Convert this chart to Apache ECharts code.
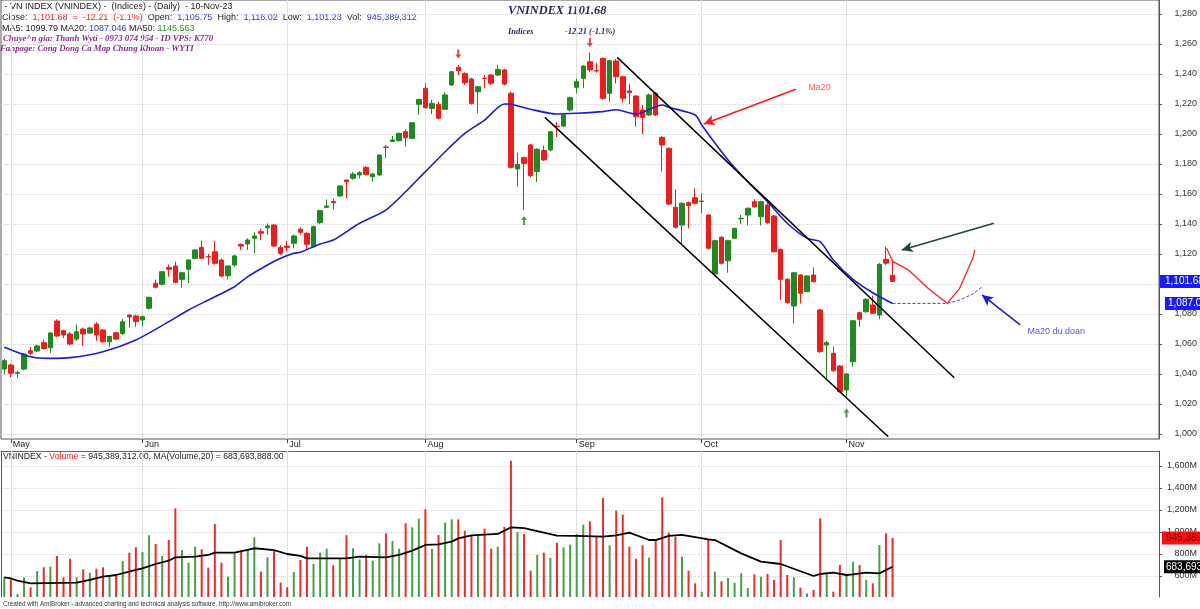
<!DOCTYPE html>
<html><head><meta charset="utf-8">
<script src="https://cdn.jsdelivr.net/npm/echarts@6/dist/echarts.min.js"></script>
<style>html,body{margin:0;padding:0;background:#fff}#c{width:1200px;height:609px}</style>
</head><body><div id="c"></div><script>
// ---------- DATA ----------
const monthNames = ['Apr','May','Jun','Jul','Aug','Sep','Oct','Nov'];
const monthDays  = [1,20,22,21,23,19,22,8];
const futureSlots = 40;

const open = [1043.3,1046,1040.5,1043.3,1055.5,1055.3,1060.9,1057.5,1075.3,1068.9,
1066.7,1063.3,1070,1067.3,1073.3,1069.3,1061.5,1067.5,1067,1079.3,
1078.7,1076,1083.8,1100.5,1099.8,1111.1,1112,1103.1,1109.8,1117.1,
1124.4,1118.3,1121.5,1116,1105.5,1112.7,1126.4,1126.7,1130.5,1134.9,
1137.5,1139.3,1124.4,1125.3,1127.1,1136.5,1133.8,1124.9,1140.9,1151.1,
1154.9,1158.7,1169.3,1170.5,1172.7,1177.8,1171.5,1172.7,1191.3,1195,
1195.5,1201.5,1197.1,1219.8,1230.5,1217.1,1219.8,1216.5,1232.7,1244.5,
1240.4,1236.7,1228.2,1237.2,1239.3,1239.3,1242.7,1227.1,1176.7,1184.2,
1192.7,1175,1189,1189.3,1205.2,1205.3,1216,1231.1,1237.1,1248.2,
1242.3,1250.4,1227.1,1248.7,1238.2,1228.7,1225.3,1216,1212.7,1227.1,
1197.8,1190.5,1151.1,1139.3,1154.2,1157.5,1155,1146,1106.7,1131.1,
1115.5,1130.5,1143.5,1146,1154.9,1144.9,1152.7,1145.3,1123.1,1103.1,
1085.3,1106,1094.9,1106,1082.7,1059.3,1053.8,1045.3,1029.3,1048.2,
1080.9,1081.5,1086,1079.3,1116.5,1105.75];
const close = [1048.9,1040.5,1041,1053.3,1053.8,1058.7,1057,1067.3,1065.3,1066,
1060,1068.2,1066.7,1070.7,1066,1061.5,1065,1063.3,1074.8,1078,
1075,1078.2,1091.1,1097.8,1108.2,1109.8,1101.1,1107.5,1116,1122.7,
1117.1,1118,1113.8,1105.3,1112,1118.7,1125.3,1129.3,1132,1133.8,
1138.7,1125.3,1120.4,1124.4,1132,1134.5,1126.5,1138.2,1148.9,1152,
1154.2,1165.3,1168.2,1173.3,1174.2,1173.1,1173.3,1186,1191,1196,
1200.4,1197.5,1207.5,1223.1,1217.5,1220.4,1210.5,1226,1241.5,1242.2,
1234.2,1220.4,1231.5,1237,1233.8,1243.1,1233.3,1177.8,1179.8,1180.4,
1172.2,1189.8,1182.7,1201.5,1204.9,1212.7,1224.2,1234.9,1245.3,1242.7,
1242,1223.8,1248.9,1238.2,1223.8,1227.5,1211.5,1211.1,1226,1212.7,
1192.7,1153.3,1137.8,1153.8,1152.2,1153.8,1155.3,1123.8,1128.9,1113.8,
1128.9,1137.1,1143.8,1150.5,1151.5,1154.9,1140.9,1121.5,1103.1,1087.5,
1107.5,1093.8,1105.3,1101.5,1054.9,1060.9,1042.2,1028.2,1040,1075.5,
1076.5,1089.8,1080.5,1113.1,1113.89,1101.68];
const low = [1040,1038,1037.5,1042.5,1052.7,1054.5,1056,1054,1064.5,1064,
1059,1062,1058.7,1066.5,1062,1060.5,1058,1062.5,1066,1071,
1071.5,1072,1083,1097,1099,1104.9,1100.5,1097.5,1100.5,1116.5,
1116.5,1112.7,1113,1104.5,1103,1111.5,1122.7,1122.7,1120.5,1129.3,
1132.7,1124.5,1119.5,1121.5,1123.8,1133,1123.1,1124,1140,1150.5,
1149.8,1158,1157.1,1169.5,1170.5,1172.5,1168.2,1172,1183.8,1194.5,
1195,1191.5,1196.5,1212.7,1217,1213.3,1209.8,1216,1232,1239.3,
1232.7,1219.5,1213.8,1230.5,1232.7,1238.5,1232.5,1177,1164.9,1149.3,
1171,1168,1182,1188.5,1198,1204.5,1215,1227,1230.5,1241.5,
1240.9,1223,1221.5,1233.8,1221,1220,1204.9,1200,1212,1212,
1174.9,1152.5,1137,1126,1137.1,1153,1147.3,1123,1106,1113,
1107.5,1130,1140,1139,1151,1139,1140,1121,1089.3,1087,
1073.8,1087,1094.5,1101,1054,1037.1,1041.5,1027.5,1024.9,1045,
1071.5,1081,1080,1076.5,1112.7,1101.23];
const high = [1050,1047,1042,1054,1058,1059.5,1063,1068,1076.5,1069.5,
1068,1073,1071,1071.5,1074.5,1070,1065.5,1068,1076.7,1080,
1079.5,1079,1091.5,1103,1108.5,1113,1114.9,1108,1116.5,1123.2,
1128.9,1120,1128.7,1117,1112.5,1119.5,1127,1130.5,1134.5,1137,
1140.4,1140,1126,1128.7,1133,1137.8,1134.5,1139,1149.5,1156.4,
1157,1166,1169.5,1174.7,1175.3,1178.5,1174,1186.5,1192.7,1198.7,
1201,1203.1,1208,1223.5,1233.8,1222.7,1221.5,1227.8,1242,1246,
1241,1237.5,1232,1239.3,1240,1246,1243.5,1228.2,1187.5,1185,
1193.5,1190.5,1192.3,1202,1208,1213.5,1225,1237,1246,1254.2,
1247.5,1251,1249.5,1250,1239,1233.5,1226,1219.3,1227,1228,
1198.5,1191,1163.1,1154.5,1155,1163.8,1160.5,1146.5,1129.5,1132,
1129.5,1137.5,1146,1151,1156.5,1155.5,1156.5,1146,1123.5,1104,
1108,1106.5,1106,1111.1,1083.5,1062,1058,1046,1040.5,1076,
1081.5,1090.5,1092,1114,1124.9,1116.02];
// volume, millions
const volume = [588,570,436,588,497,645,679,685,782,588,
757,588,661,630,666,679,609,600,736,812,
861,818,970,891,782,927,1215,836,721,866,
843,676,1073,721,594,806,830,843,952,639,
770,836,539,497,636,745,866,709,812,848,
697,755,970,852,751,791,739,897,988,918,
848,1079,1042,1121,1206,848,973,1085,1115,1115,
1012,973,979,1030,848,866,1048,1648,1000,982,
648,791,812,764,903,861,885,982,1067,1097,
964,1309,879,1194,1157,866,757,879,767,927,
1315,994,957,776,648,533,457,933,639,552,
582,539,624,491,615,594,618,564,927,609,
588,494,442,473,1124,630,457,700,609,730,
700,564,533,882,988,945.389312];
// MA20 of price, read as [bar index, value]
const ma20 = [[0,1057.8],[4,1051.5],[7,1050.4],[10,1050.9],[15,1054.9],[20,1062.7],[25,1074.9],[28,1082.7],
[31,1089.3],[35,1098.2],[37,1104.9],[40,1112.7],[42,1117.1],[44,1120.5],[45,1121.1],[48,1126.7],[50,1129.3],
[54,1140.5],[58,1149.3],[61,1161.5],[64,1174.9],[67,1188.2],[70,1200.4],[73,1209.3],[76,1220],[77,1219.8],
[80,1216.5],[84,1213.3],[87,1213.8],[91,1214.9],[93,1216.2],[96,1213.3],[100,1219.3],[101,1217.8],[105,1212.7],
[106,1206],[108,1194],[110,1182.7],[113,1168.2],[116,1154.9],[119,1140.5],[122,1130.5],[124,1128.2],[126,1116],
[129,1103.1],[132,1094.2],[135,1087.046]];
// MA(Volume,20), millions
const volMa20 = [[0,588],[1,579],[2,557],[4,533],[11,539],[13,564],[15,594],[17,609],[20,655],[21,670],[23,709],
[25,739],[26,770],[29,776],[31,791],[32,812],[35,812],[38,852],[41,836],[43,800],[45,782],[46,761],[52,761],
[54,776],[58,770],[60,791],[62,830],[64,882],[66,888],[68,912],[69,942],[71,970],[75,982],[77,1042],[79,1036],
[84,967],[87,964],[91,957],[93,970],[95,994],[98,927],[99,927],[101,964],[103,973],[107,933],[108,927],
[112,806],[115,730],[118,709],[123,600],[124,618],[126,630],[128,609],[129,615],[131,630],[133,624],[135,683.693888]];
// drawn annotations, [bar index, price]
const upperTrend = [[93.16,1251.1],[144.38,1037.5]];
const lowerTrend = [[82.17,1211.1],[134.35,998.2]];
const projPrice = [[134.1,1123.8],[135.05,1114.9],[137.3,1109.8],[140.4,1097.1],[143.3,1087.1],[145.2,1097.1],[147.2,1117.1],[147.5,1122.7]];
const projMa20 = [[135,1087.05],[143.3,1087.1],[145.2,1089.3],[147.2,1093.3],[148.6,1098.2]];
const arrowMa20 = [[120.3,1229.8],[106.3,1206.7]];
const arrowDark = [[150.4,1140.5],[136.4,1122.7]];
const arrowBlue = [[154.4,1072.7],[148.6,1092.7]];
const sellSignals = [[69,1253.3],[89,1261]];
const buySignals = [[79,1142.3],[128,1014]];
const noteMa20 = [122.2,1230.7];
const noteMa20Forecast = [155.5,1068];
const priceTicks = [1000,1020,1040,1060,1080,1100,1120,1140,1160,1180,1200,1220,1240,1260,1280];
const volTicks = [600,800,1000,1200,1400,1600];

// ---------- BUILD ----------
const cats = [];
monthNames.forEach((m, k) => { for (let d = 0; d < monthDays[k]; d++) cats.push(m + '|' + d); });
for (let k = 0; k < futureSlots; k++) cats.push('F|' + k);
const N = cats.length;
const isMonthStart = (idx) => { const p = cats[idx].split('|'); return p[1] === '0' && p[0] !== 'Apr' && p[0] !== 'F'; };
const monthStartIdx = cats.map((c, i) => i).filter(isMonthStart);

const candles = open.map((o, i) => [o, close[i], low[i], high[i]]);
const UP = '#1f8a1f', DOWN = '#f01c1c';
const volBars = volume.map((v, i) => ({value: v, itemStyle: {color: close[i] >= open[i] ? '#46a046' : '#ee2a2a'}}));
const last = close.length - 1;
const chg = close[last] - close[last - 1];
const pct = chg / close[last - 1] * 100;
const fmt2 = v => v.toLocaleString('en-US', {minimumFractionDigits: 2, maximumFractionDigits: 2});
const FONT = '"Liberation Sans", Arial, sans-serif';
const SERIF = '"Liberation Serif", "Times New Roman", serif';
const HF = '9px ' + FONT;
const HIDDEN = {color: 'rgba(0,0,0,0)', width: 0, type: 'solid'};

const GL = 1, GR = 41;
const xCat = (grid, pos, labels) => ({
  type: 'category', gridIndex: grid, data: cats, position: pos, boundaryGap: true,
  axisLine: {show: pos === 'top', onZero: false, lineStyle: {color: '#666'}},
  axisTick: {show: labels, interval: isMonthStart, alignWithLabel: true, length: 4, lineStyle: {color: '#444'}},
  axisLabel: {show: labels, interval: isMonthStart, formatter: v => v.split('|')[0], align: 'left',
    padding: [0, 0, 0, 2], margin: 1, fontSize: 9, color: '#222', fontFamily: FONT},
  splitLine: {show: false}
});
const xVal = (grid) => ({type: 'value', gridIndex: grid, min: -0.5, max: N - 0.5, show: false,
  axisLine: {show: false, onZero: false}, splitLine: {show: false}});
const monthLines = (xi, yi) => ({
  type: 'line', xAxisIndex: xi, yAxisIndex: yi, data: [], z: 1, silent: true,
  markLine: {silent: true, symbol: 'none', label: {show: false}, z: 1,
    lineStyle: {color: '#e0e0e0', type: 'solid', width: 1},
    data: monthStartIdx.map(i => ({xAxis: i}))}
});
const tagItem = (value, text, bg, fg, dist, pad) => ({
  yAxis: value, lineStyle: HIDDEN,
  label: {show: true, position: 'end', distance: dist, formatter: () => text, backgroundColor: bg, color: fg,
    opacity: 1, padding: pad, fontSize: 10, fontFamily: FONT}
});

const option = {
  animation: false,
  backgroundColor: '#fff',
  textStyle: {fontFamily: FONT},
  grid: [
    {left: GL, right: GR, top: 0, height: 439, show: true, borderColor: '#555', borderWidth: 1},
    {left: GL, right: GR, top: 451, bottom: 12}
  ],
  xAxis: [xCat(0, 'bottom', true), xCat(1, 'top', false), xVal(0), xVal(1)],
  yAxis: [
    {type: 'value', gridIndex: 0, position: 'right', min: 996.6667, max: 1289.3333,
      axisLine: {show: true, onZero: false, lineStyle: {color: '#555'}},
      axisTick: {show: true, length: 3, customValues: priceTicks, lineStyle: {color: '#555'}},
      axisLabel: {customValues: priceTicks, formatter: v => v.toLocaleString('en-US'), align: 'right', margin: 38,
        fontSize: 9, color: '#333', fontFamily: FONT},
      splitLine: {show: true, lineStyle: {color: '#d4d4d4', type: 'dotted'}}},
    {type: 'value', gridIndex: 1, position: 'right', min: 409, max: 1736.3,
      axisLine: {show: true, onZero: false, lineStyle: {color: '#555'}},
      axisTick: {show: true, length: 3, customValues: volTicks, lineStyle: {color: '#555'}},
      axisLabel: {customValues: volTicks, formatter: v => v.toLocaleString('en-US') + 'M', align: 'right', margin: 38,
        fontSize: 9, color: '#333', fontFamily: FONT},
      splitLine: {show: true, lineStyle: {color: '#d4d4d4', type: 'dotted'}}},
    {type: 'value', gridIndex: 1, position: 'left', min: 409, max: 1736.3,
      axisLine: {show: true, onZero: false, lineStyle: {color: '#555'}}, axisTick: {show: false}, axisLabel: {show: false}, splitLine: {show: false}}
  ],
  series: [
    monthLines(2, 0),
    monthLines(3, 1),
    {type: 'candlestick', xAxisIndex: 0, yAxisIndex: 0, data: candles, barWidth: 5, z: 2,
      itemStyle: {color: UP, color0: DOWN, borderColor: UP, borderColor0: DOWN, borderWidth: 1}},
    {type: 'line', xAxisIndex: 2, yAxisIndex: 0, data: ma20, showSymbol: false, smooth: 0.25,
      lineStyle: {color: '#1c1cd8', width: 1.6}, z: 4},
    {type: 'line', xAxisIndex: 2, yAxisIndex: 0, data: projMa20, showSymbol: false, clip: false,
      lineStyle: {color: '#3a3ae0', width: 1, type: [3, 2]}, z: 4,
      markLine: {silent: true, symbol: 'none', z: 8,
        data: [tagItem(ma20[ma20.length - 1][1], fmt2(ma20[ma20.length - 1][1]), '#1a1aff', '#fff', 6, [2, 3, 1, 3]),
               tagItem(close[last], fmt2(close[last]), '#1a1aff', '#fff', 1, [2, 3, 1, 5])]}},
    {type: 'line', xAxisIndex: 2, yAxisIndex: 0, data: projPrice, showSymbol: false, clip: false,
      lineStyle: {color: '#ff2020', width: 1.3}, z: 4},
    {type: 'line', xAxisIndex: 2, yAxisIndex: 0, data: upperTrend, showSymbol: false,
      lineStyle: {color: '#000', width: 1.5}, z: 5,
      markLine: {silent: true, symbol: ['none', 'arrow'], symbolSize: [8, 11], label: {show: false},
        data: [
          [{coord: arrowMa20[0], lineStyle: {color: '#ff1a1a', width: 1.5, type: 'solid'}}, {coord: arrowMa20[1]}],
          [{coord: arrowDark[0], lineStyle: {color: '#1d4a3c', width: 1.5, type: 'solid'}}, {coord: arrowDark[1]}],
          [{coord: arrowBlue[0], lineStyle: {color: '#1a1ae0', width: 1.5, type: 'solid'}}, {coord: arrowBlue[1]}]
        ]}},
    {type: 'line', xAxisIndex: 2, yAxisIndex: 0, data: lowerTrend, showSymbol: false,
      lineStyle: {color: '#000', width: 1.5}, z: 5},
    {type: 'scatter', xAxisIndex: 2, yAxisIndex: 0, data: sellSignals, symbolSize: [6, 9],
      symbol: 'path://M2,0 L4,0 L4,5 L6,5 L3,9 L0,5 L2,5 Z', itemStyle: {color: '#e8141e'}, z: 6},
    {type: 'scatter', xAxisIndex: 2, yAxisIndex: 0, data: buySignals, symbolSize: [6, 9],
      symbol: 'path://M3,0 L6,4 L4,4 L4,9 L2,9 L2,4 L0,4 Z', itemStyle: {color: '#1f8a1f'}, z: 6},
    {type: 'scatter', xAxisIndex: 2, yAxisIndex: 0, symbolSize: 0, z: 6,
      data: [
        {value: noteMa20, label: {show: true, position: 'right', distance: 0, formatter: 'Ma20', color: '#ff3030', fontSize: 9, fontFamily: FONT}},
        {value: noteMa20Forecast, label: {show: true, position: 'right', distance: 0, formatter: 'Ma20 du doan', color: '#2a2ae8', fontSize: 9, fontFamily: FONT}}
      ]},
    {type: 'bar', xAxisIndex: 1, yAxisIndex: 1, data: volBars, barWidth: 2, z: 2},
    {type: 'line', xAxisIndex: 3, yAxisIndex: 1, data: volMa20, showSymbol: false, clip: false,
      lineStyle: {color: '#000', width: 1.8}, z: 4,
      markLine: {silent: true, symbol: 'none', z: 8,
        data: [
          tagItem(volume[last], Math.round(volume[last] * 1e6).toLocaleString('en-US'), '#ff1010', '#7a0000', 3, [2, 3, 1, 4]),
          tagItem(volMa20[volMa20.length - 1][1], Math.round(volMa20[volMa20.length - 1][1] * 1e6).toLocaleString('en-US'), '#000', '#fff', 5, [2, 2, 1, 2])
        ]}}
  ],
  graphic: [
    {type: 'text', x: 2, y: 7, style: {text: ' - VN INDEX (VNINDEX) -  (Indices) - (Daily)  - 10-Nov-23', font: HF, fill: '#222', verticalAlign: 'middle'}},
    {type: 'text', x: 2, y: 18, style: {
      text: '{k|Close:}  {r|' + fmt2(close[last]) + '  =  ' + chg.toFixed(2) + '  (' + pct.toFixed(1) + '%)}  {k|Open:}  {b|' + fmt2(open[last]) +
        '}  {k|High:}  {b|' + fmt2(high[last]) + '}  {k|Low:}  {b|' + fmt2(low[last]) + '}  {k|Vol:}  {b|' + Math.round(volume[last] * 1e6).toLocaleString('en-US') + '}',
      font: HF, verticalAlign: 'middle',
      rich: {k: {fill: '#222', font: HF}, r: {fill: '#f02020', font: HF}, b: {fill: '#2b3ad0', font: HF}}}},
    {type: 'text', x: 2, y: 28.5, style: {
      text: '{k|MA5:} {k|1099.79} {k|MA20:} {b|1087.046} {k|MA50:} {g|1145.563}',
      font: HF, verticalAlign: 'middle',
      rich: {k: {fill: '#222', font: HF}, b: {fill: '#2b3ad0', font: HF}, g: {fill: '#2a962a', font: HF}}}},
    {type: 'text', x: 3, y: 39, style: {text: 'Chuye^n gia: Thanh Wyti - 0973 074 954 - ID VPS: K770', font: 'italic bold 8.8px ' + SERIF, fill: '#8e2a8e', verticalAlign: 'middle'}},
    {type: 'text', x: 0, y: 49, style: {text: 'Fanpage: Cong Dong Ca Map Chung Khoan - WYTI', font: 'italic bold 8.8px ' + SERIF, fill: '#8e2a8e', verticalAlign: 'middle'}},
    {type: 'text', x: 508, y: 11, style: {text: 'VNINDEX ' + close[last].toFixed(2), font: 'italic bold 12.3px ' + SERIF, fill: '#2e1f5c', verticalAlign: 'middle'}},
    {type: 'text', x: 508, y: 32, style: {text: 'Indices', font: 'italic bold 8.5px ' + SERIF, fill: '#2e1f5c', verticalAlign: 'middle'}},
    {type: 'text', x: 565, y: 32, style: {text: chg.toFixed(2) + ' (' + pct.toFixed(1) + '%)', font: 'italic bold 8.5px ' + SERIF, fill: '#2e1f5c', verticalAlign: 'middle'}},
    {type: 'text', x: 3, y: 456.5, style: {
      text: '{k|VNINDEX - }{r|Volume}{k| = ' + fmt2(volume[last] * 1e6) + ', MA(Volume,20) = ' + fmt2(volMa20[volMa20.length - 1][1] * 1e6) + '}',
      font: '8.7px ' + FONT, verticalAlign: 'middle',
      rich: {k: {fill: '#222', font: '8.7px ' + FONT}, r: {fill: '#f02020', font: '8.7px ' + FONT}}}},
    {type: 'text', x: 3, y: 604, style: {text: 'Created with AmiBroker - advanced charting and technical analysis software. http://www.amibroker.com', font: '6.3px ' + FONT, fill: '#333', verticalAlign: 'middle'}}
  ]
};
const chart = echarts.init(document.getElementById('c'), null, {renderer: 'canvas'});
chart.setOption(option);
</script></body></html>
